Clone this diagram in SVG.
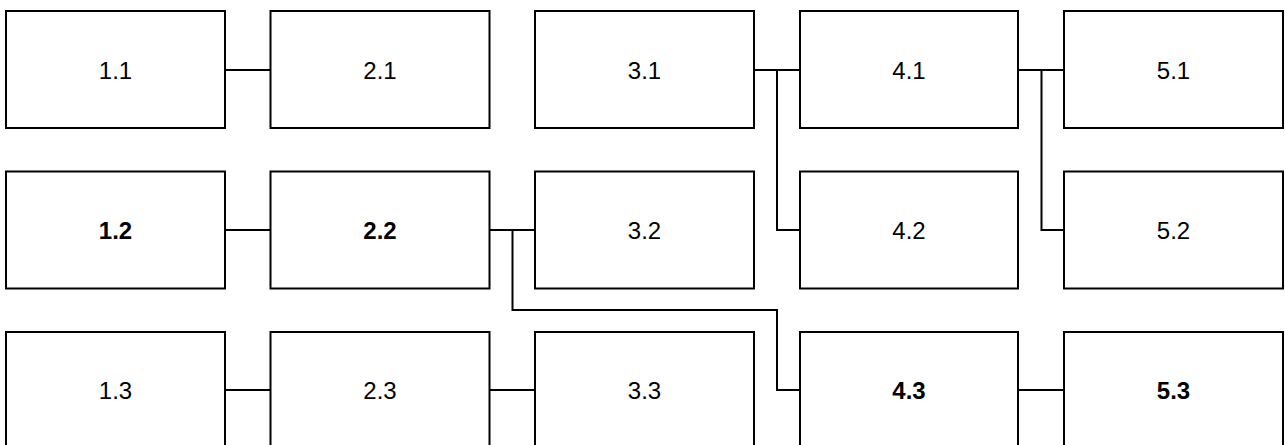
<svg xmlns="http://www.w3.org/2000/svg" width="1285" height="445" viewBox="0 0 1285 445">
<style>
.box{fill:#fff;stroke:#000;stroke-width:2}
.lbl{font-family:"Liberation Sans",Arial,sans-serif;font-size:24px;fill:#000;text-anchor:middle}
.b{font-weight:bold}
.c{fill:none;stroke:#000;stroke-width:2}
</style>
<rect width="1285" height="445" fill="#fff"/>
<g id="connectors">
<path class="c" d="M225,70H270"/>
<path class="c" d="M754,70H800M777,70V230H800"/>
<path class="c" d="M1018,70H1064M1041.5,70V230H1064"/>
<path class="c" d="M225,230H270.5"/>
<path class="c" d="M490,230H535M512.5,230V310H777V390H800"/>
<path class="c" d="M225,390H270.5"/>
<path class="c" d="M490,390H535"/>
<path class="c" d="M1018,390H1064"/>
</g>
<g id="n11"><rect class="box" x="6" y="11" width="219" height="117"/><text class="lbl" x="115.5" y="78.5">1.1</text></g>
<g id="n21"><rect class="box" x="270.5" y="11" width="219" height="117"/><text class="lbl" x="380" y="78.5">2.1</text></g>
<g id="n31"><rect class="box" x="535" y="11" width="219" height="117"/><text class="lbl" x="644.5" y="78.5">3.1</text></g>
<g id="n41"><rect class="box" x="800" y="11" width="218" height="117"/><text class="lbl" x="909" y="78.5">4.1</text></g>
<g id="n51"><rect class="box" x="1064" y="11" width="219" height="117"/><text class="lbl" x="1173.5" y="78.5">5.1</text></g>
<g id="n12"><rect class="box" x="6" y="171.5" width="219" height="117"/><text class="lbl b" x="115.5" y="238.5">1.2</text></g>
<g id="n22"><rect class="box" x="270.5" y="171.5" width="219" height="117"/><text class="lbl b" x="380" y="238.5">2.2</text></g>
<g id="n32"><rect class="box" x="535" y="171.5" width="219" height="117"/><text class="lbl" x="644.5" y="238.5">3.2</text></g>
<g id="n42"><rect class="box" x="800" y="171.5" width="218" height="117"/><text class="lbl" x="909" y="238.5">4.2</text></g>
<g id="n52"><rect class="box" x="1064" y="171.5" width="219" height="117"/><text class="lbl" x="1173.5" y="238.5">5.2</text></g>
<g id="n13"><rect class="box" x="6" y="332" width="219" height="117"/><text class="lbl" x="115.5" y="398.5">1.3</text></g>
<g id="n23"><rect class="box" x="270.5" y="332" width="219" height="117"/><text class="lbl" x="380" y="398.5">2.3</text></g>
<g id="n33"><rect class="box" x="535" y="332" width="219" height="117"/><text class="lbl" x="644.5" y="398.5">3.3</text></g>
<g id="n43"><rect class="box" x="800" y="332" width="218" height="117"/><text class="lbl b" x="909" y="398.5">4.3</text></g>
<g id="n53"><rect class="box" x="1064" y="332" width="219" height="117"/><text class="lbl b" x="1173.5" y="398.5">5.3</text></g>
</svg>
